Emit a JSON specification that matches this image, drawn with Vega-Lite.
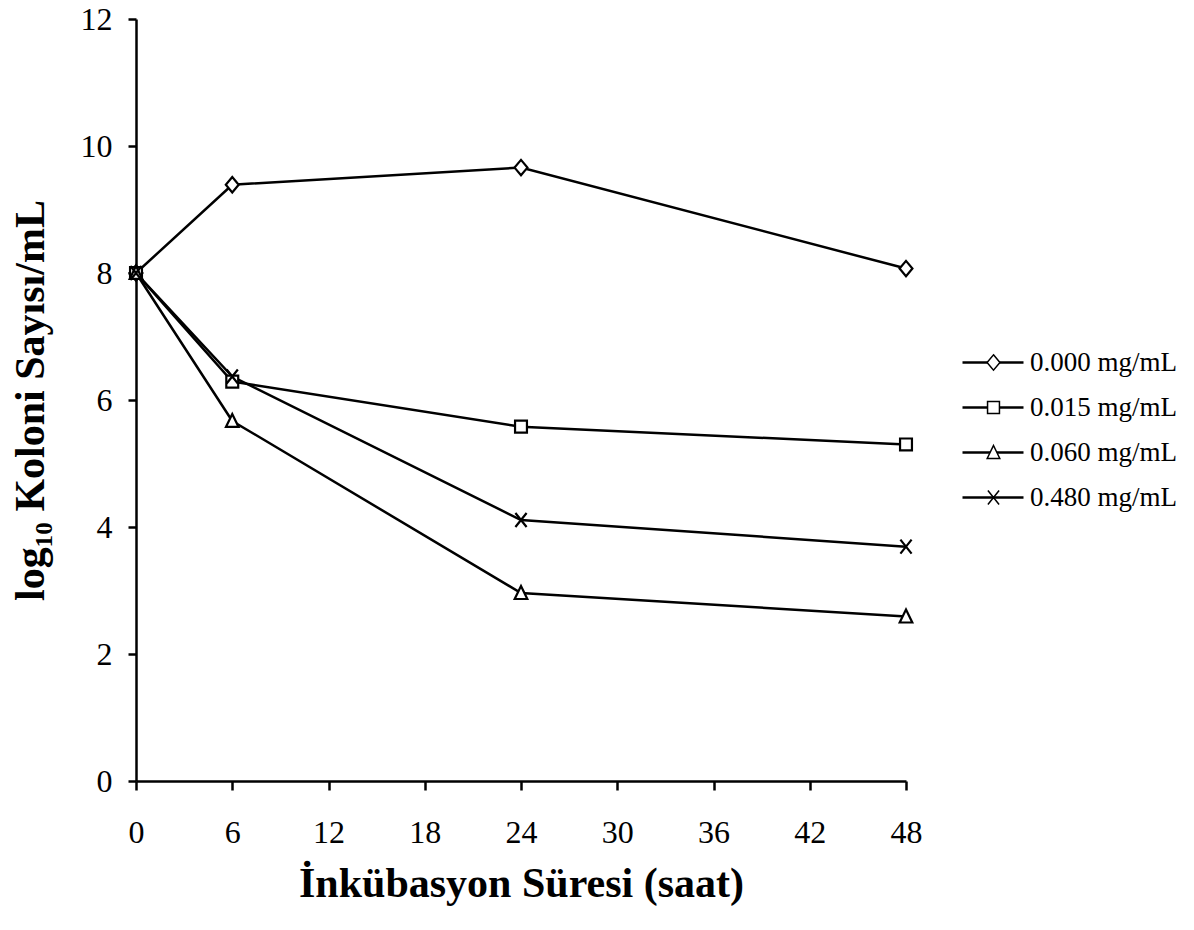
{
  "$schema": "https://vega.github.io/schema/vega-lite/v6.json",
  "autosize": {"type": "none"},
  "width": 770,
  "height": 762,
  "padding": {"left": 136, "top": 19, "right": 288, "bottom": 149},
  "background": "white",
  "config": {
    "font": "Liberation Serif",
    "view": {"stroke": null},
    "axis": {
      "grid": false,
      "domainColor": "black",
      "domainWidth": 2.5,
      "tickColor": "black",
      "tickWidth": 2.5,
      "labelColor": "black",
      "titleColor": "black",
      "labelFont": "Liberation Serif",
      "titleFont": "Liberation Serif",
      "labelFontSize": 32,
      "titleFontSize": 42,
      "titleFontWeight": "bold"
    }
  },
  "data": {
    "values": [
      {"series": "0.000 mg/mL", "hour": 0, "value": 8.0},
      {"series": "0.000 mg/mL", "hour": 6, "value": 9.39},
      {"series": "0.000 mg/mL", "hour": 24, "value": 9.66},
      {"series": "0.000 mg/mL", "hour": 48, "value": 8.07},
      {"series": "0.015 mg/mL", "hour": 0, "value": 8.0},
      {"series": "0.015 mg/mL", "hour": 6, "value": 6.29},
      {"series": "0.015 mg/mL", "hour": 24, "value": 5.58},
      {"series": "0.015 mg/mL", "hour": 48, "value": 5.3},
      {"series": "0.060 mg/mL", "hour": 0, "value": 8.0},
      {"series": "0.060 mg/mL", "hour": 6, "value": 5.67},
      {"series": "0.060 mg/mL", "hour": 24, "value": 2.96},
      {"series": "0.060 mg/mL", "hour": 48, "value": 2.59},
      {"series": "0.480 mg/mL", "hour": 0, "value": 8.0},
      {"series": "0.480 mg/mL", "hour": 6, "value": 6.37},
      {"series": "0.480 mg/mL", "hour": 24, "value": 4.11},
      {"series": "0.480 mg/mL", "hour": 48, "value": 3.69}
    ]
  },
  "encoding": {
    "x": {
      "field": "hour",
      "type": "quantitative",
      "scale": {"domain": [0, 48], "nice": false, "zero": false},
      "axis": {
        "title": "İnkübasyon Süresi (saat)",
        "values": [0, 6, 12, 18, 24, 30, 36, 42, 48],
        "tickSize": 9,
        "labelPadding": 27,
        "titlePadding": 15,
        "labelFlush": false
      }
    },
    "y": {
      "field": "value",
      "type": "quantitative",
      "scale": {"domain": [0, 12], "nice": false},
      "axis": {
        "title": "log₁₀ Koloni Sayısı/mL",
        "values": [0, 2, 4, 6, 8, 10, 12],
        "tickSize": 8,
        "labelPadding": 16,
        "titlePadding": 28
      }
    }
  },
  "layer": [
    {
      "mark": {"type": "line", "strokeWidth": 2.5},
      "encoding": {
        "color": {
          "field": "series",
          "type": "nominal",
          "scale": {"range": ["black", "black", "black", "black"]},
          "legend": {
            "title": null,
            "orient": "none",
            "legendX": 836,
            "legendY": 330,
            "padding": 0,
            "symbolType": "M-31,0H30",
            "symbolSize": 4,
            "symbolStrokeWidth": 2.5,
            "symbolStrokeColor": "black",
            "symbolOffset": 8,
            "labelFont": "Liberation Serif",
            "labelFontSize": 27,
            "labelColor": "black",
            "labelOpacity": 0,
            "labelOffset": 23,
            "labelLimit": 300,
            "rowPadding": 17
          }
        }
      }
    },
    {
      "mark": {"type": "point", "filled": false, "fill": "white", "fillOpacity": 1, "stroke": "black", "strokeWidth": 2.2, "opacity": 1, "size": 196},
      "encoding": {
        "shape": {
          "field": "series",
          "type": "nominal",
          "scale": {
            "domain": ["0.000 mg/mL", "0.015 mg/mL", "0.060 mg/mL", "0.480 mg/mL"],
            "range": [
              "M0,-1.1L0.92,0L0,1.1L-0.92,0Z",
              "M-0.85,-0.85H0.85V0.85H-0.85Z",
              "M0,-1L0.9,0.85H-0.9Z",
              "M-0.8,-1L0.8,1M-0.8,1L0.8,-1"
            ]
          },
          "legend": {
            "title": null,
            "orient": "none",
            "legendX": 836,
            "legendY": 330,
            "padding": 0,
            "symbolSize": 196,
            "symbolOffset": 8,
            "labelFont": "Liberation Serif",
            "labelFontSize": 27,
            "labelColor": "black",
            "labelOffset": 23,
            "labelLimit": 300,
            "rowPadding": 17
          }
        }
      }
    }
  ]
}
